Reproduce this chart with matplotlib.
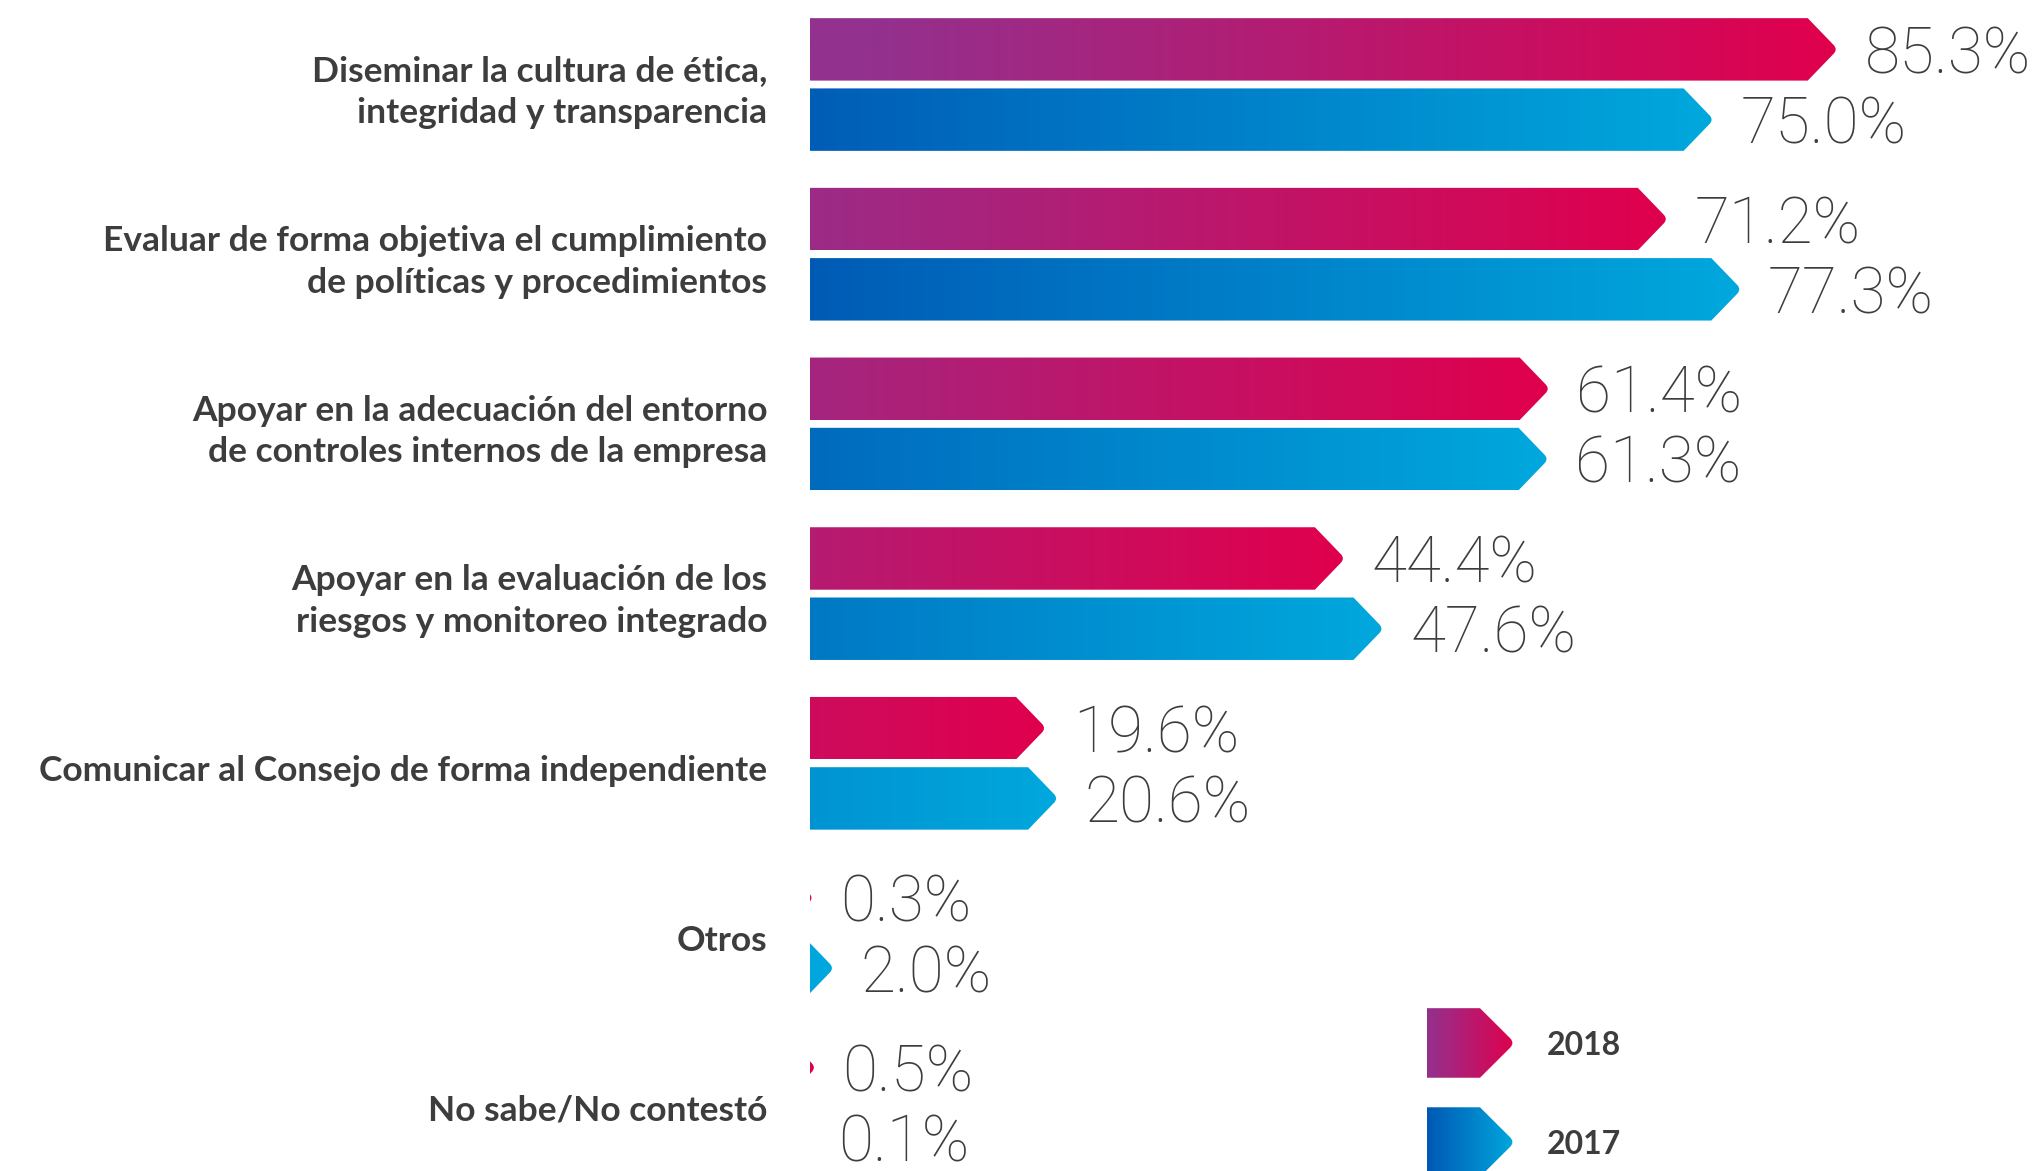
import numpy as np
import matplotlib
matplotlib.use("Agg")
import matplotlib.pyplot as plt
from matplotlib.path import Path
from matplotlib.patches import PathPatch
from matplotlib.colors import to_rgb

categories = [
    "Diseminar la cultura de ética,\nintegridad y transparencia",
    "Evaluar de forma objetiva el cumplimiento\nde políticas y procedimientos",
    "Apoyar en la adecuación del entorno\nde controles internos de la empresa",
    "Apoyar en la evaluación de los\nriesgos y monitoreo integrado",
    "Comunicar al Consejo de forma independiente",
    "Otros",
    "No sabe/No contestó",
]
values_2018 = [85.3, 71.2, 61.4, 44.4, 19.6, 0.3, 0.5]
values_2017 = [75.0, 77.3, 61.3, 47.6, 20.6, 2.0, 0.1]
series_names = ["2018", "2017"]

GRAD_2018 = ("#93318e", "#e0004d")
GRAD_2017 = ("#0058b4", "#00a8dd")
TEXT_COLOR = "#3d3d3d"

W, H = 2039, 1171
X0_PX = 810          # pixel where 0% sits
PX_PER_PCT = 12.05
Y0_PX = 84.5         # centre of first group
GROUP_PX = 169.7

BAR_H = 0.368
OFFSET = 0.207
TIP = 2.5            # arrow depth in %
SPAN = 80.0          # gradient length in %


def arrow_path(x_end, yc, h, depth):
    xf = x_end - depth
    yb, yt = yc - h / 2, yc + h / 2
    left = min(0.0, xf)
    k = 0.14
    p1 = (x_end - depth * k, yc - h / 2 * k)
    p2 = (x_end - depth * k, yc + h / 2 * k)
    verts = [(left, yb), (xf, yb), p1, (x_end, yc), p2, (xf, yt), (left, yt), (left, yb)]
    codes = [Path.MOVETO, Path.LINETO, Path.LINETO, Path.CURVE3, Path.CURVE3,
             Path.LINETO, Path.LINETO, Path.CLOSEPOLY]
    return Path(verts, codes)


def gradient_bar(ax, x_start, x_end, yc, h, colors, depth, span=None):
    c0 = np.array(to_rgb(colors[0]))
    c1 = np.array(to_rgb(colors[1]))
    xs = np.linspace(x_start, x_end, 300)
    if span is None:
        t = (xs - x_start) / (x_end - x_start)
    else:
        t = np.clip(1 - (x_end - xs) / span, 0, 1)
    img = (c0[None, :] * (1 - t[:, None]) + c1[None, :] * t[:, None])[None, :, :]
    im = ax.imshow(img, extent=[x_start, x_end, yc + h / 2, yc - h / 2],
                   aspect="auto", interpolation="bilinear", zorder=2)
    base = arrow_path(x_end - x_start, yc, h, depth)
    path = Path(base.vertices + [x_start, 0], base.codes)
    patch = PathPatch(path, transform=ax.transData, facecolor="none", edgecolor="none")
    im.set_clip_path(patch)


def main():
    fig = plt.figure(figsize=(W / 100, H / 100), dpi=100)
    ax = fig.add_axes([0, 0, 1, 1])
    ax.axis("off")

    for i, cat in enumerate(categories):
        for v, yc, grad in [(values_2018[i], i - OFFSET, GRAD_2018),
                            (values_2017[i], i + OFFSET, GRAD_2017)]:
            gradient_bar(ax, 0, v, yc, BAR_H, grad, TIP, span=SPAN)
            ax.text(v + 2.2, yc + 0.035, f"{v:.1f}%", ha="left", va="center",
                    fontsize=46, color=TEXT_COLOR, family="Roboto", fontweight="light")
        ax.text(-3.55, i + 0.045, cat, ha="right", va="center", fontsize=25.5,
                color=TEXT_COLOR, family="Lato", fontweight="bold", linespacing=1.38)

    # legend
    leg_y = [5.648, 6.232]
    for name, yc, grad in zip(series_names, leg_y, [GRAD_2018, GRAD_2017]):
        gradient_bar(ax, 51.2, 58.5, yc, 0.41, grad, 2.9)
        ax.text(61.1, yc + 0.015, name, ha="left", va="center", fontsize=23,
                color=TEXT_COLOR, family="Lato", fontweight="bold")

    ax.set_xlim(-X0_PX / PX_PER_PCT, (W - X0_PX) / PX_PER_PCT)
    ax.set_ylim((H - Y0_PX) / GROUP_PX, -Y0_PX / GROUP_PX)
    fig.savefig("out.png", dpi=100, facecolor="white")


if __name__ == "__main__":
    main()
